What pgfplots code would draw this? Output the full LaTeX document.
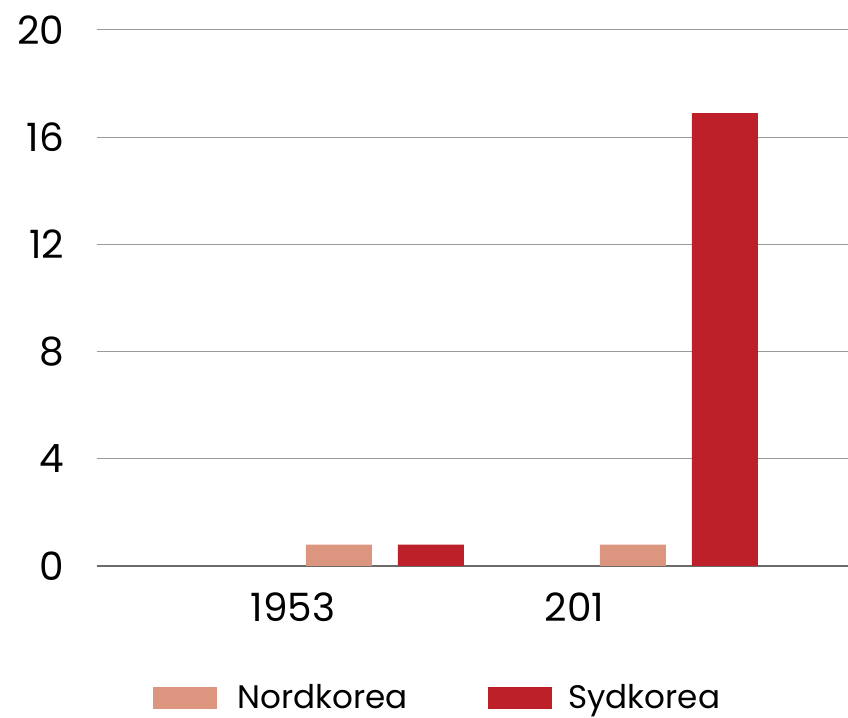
\documentclass[border=0pt]{standalone}
\usepackage{fontspec}
\setmainfont{Poppins}
\usepackage{pgfplots}
\pgfplotsset{compat=1.18}
\definecolor{nordk}{HTML}{DC9680}
\definecolor{sydk}{HTML}{BE2029}
\definecolor{gridgray}{HTML}{9A9A9A}
\definecolor{axisgray}{HTML}{6B6B6B}

\begin{document}
\begin{tikzpicture}
\begin{axis}[
  scale only axis,
  width=375.5pt, height=268pt,
  ybar,
  bar width=0.224,
  xmin=-0.667, xmax=1.888,
  ymin=0, ymax=20,
  ytick={0,4,8,12,16,20},
  xtick={0,1},
  xticklabels={1953,{201\phantom{8}}},
  axis x line*=bottom,
  axis y line=left,
  y axis line style={draw=none},
  x axis line style={draw=axisgray, line width=1pt},
  major tick length=0pt,
  ymajorgrids=true,
  grid style={gridgray, line width=0.5pt},
  /pgf/number format/assume math mode=true,
  tick label style={font=\fontsize{19.5}{23}\selectfont, text=black},
  yticklabel style={anchor=east, xshift=-13pt},
  xticklabel style={anchor=north, yshift=-10pt},
  legend columns=2,
  legend style={draw=none, fill=none, inner sep=0pt, font=\fontsize{16.3}{19}\selectfont,
    nodes={inner ysep=0pt},
    at={(rel axis cs:0.0746,-0.246)}, anchor=west,
    /tikz/every even column/.append style={column sep=38.5pt}},
  legend image code/.code={\fill[#1,draw=none] (0pt,-5.5pt) rectangle (32pt,5.5pt);},
  legend cell align=left,
]
\addplot[fill=nordk, draw=none, bar shift=0.156] coordinates {(0,0.8) (1,0.8)};
\addplot[fill=sydk, draw=none, bar shift=0.469] coordinates {(0,0.8) (1,16.9)};
\legend{\hspace{8pt}Nordkorea, \hspace{6pt}Sydkorea}
\end{axis}
\pgfresetboundingbox
\path[use as bounding box] ([shift={(-48.5pt,-76pt)}]current axis.south west) rectangle ([shift={(0pt,15pt)}]current axis.north east);
\end{tikzpicture}
\end{document}
